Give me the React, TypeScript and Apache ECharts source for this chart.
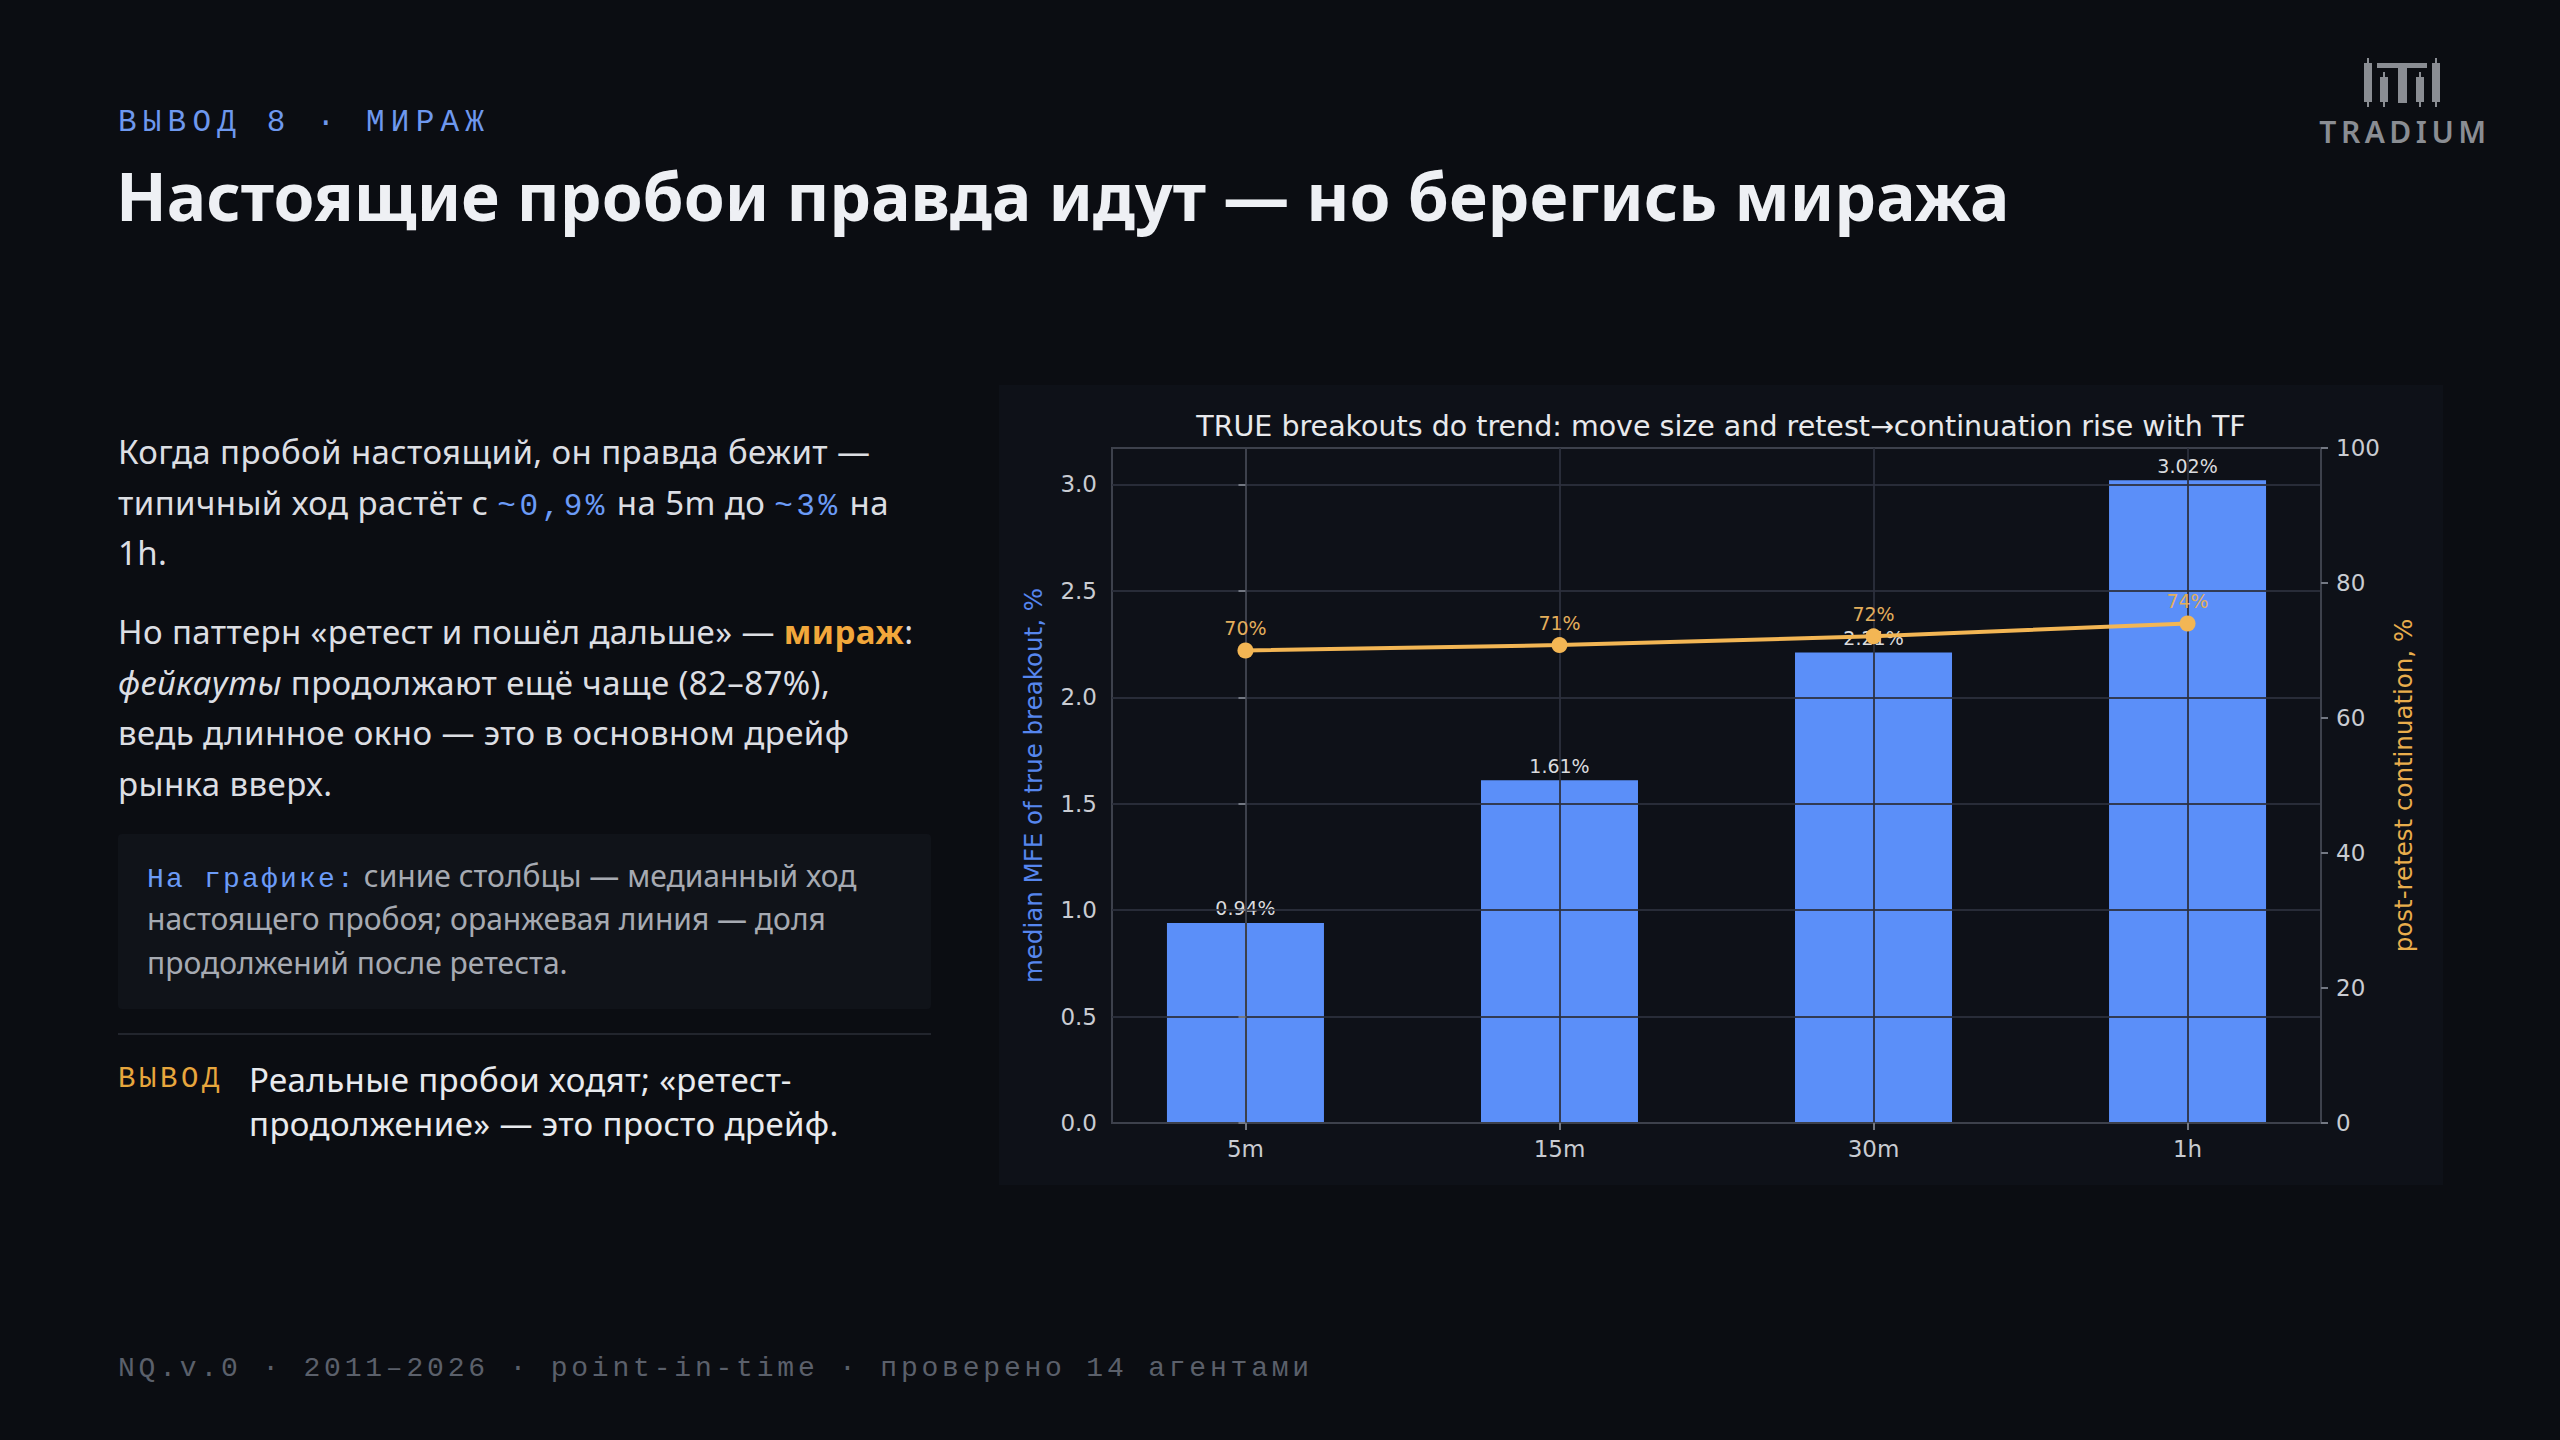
import React, { useEffect, useRef } from "react";
import * as echarts from "echarts";

// ---------------- data ----------------
const categories = ["5m", "15m", "30m", "1h"];
const mfeValues = [0.94, 1.61, 2.21, 3.02];
const mfeLabels = ["0.94%", "1.61%", "2.21%", "3.02%"];
const contValues = [70.0, 70.8, 72.1, 74.0];
const contLabels = ["70%", "71%", "72%", "74%"];
const leftTicks = [0, 0.5, 1.0, 1.5, 2.0, 2.5, 3.0];
const rightTicks = [0, 20, 40, 60, 80, 100];
const xTicks = [0, 1, 2, 3];

const CHART_TITLE =
  "TRUE breakouts do trend: move size and retest\u2192continuation rise with TF";
const LEFT_NAME = "median MFE of true breakout, %";
const RIGHT_NAME = "post-retest continuation, %";

// ---------------- style ----------------
const BG = "#0b0d12";
const PANEL = "#0e1118";
const BAR = "#5b8ff9";
const ORANGE = "#f3b654";
const GRID = "rgba(44,48,60,0.88)";
const SPINE = "#3d414c";
const TICKC = "#c9ccd2";
const SANS = "'Noto Sans', 'DejaVu Sans', sans-serif";
const MONO = "'Liberation Mono', 'DejaVu Sans Mono', monospace";
const CHART_FONT = "'DejaVu Sans', sans-serif";

function Chart() {
  const ref = useRef<HTMLDivElement | null>(null);
  useEffect(() => {
    if (!ref.current) return;
    const chart = echarts.init(ref.current, undefined, { renderer: "svg" });
    const option: any = {
      animation: false,
      backgroundColor: PANEL,
      textStyle: { fontFamily: CHART_FONT },
      title: {
        text: CHART_TITLE,
        left: 717,
        top: 22,
        textAlign: "center",
        textStyle: {
          color: "#e8e9ec",
          fontSize: 28.5,
          fontWeight: "normal",
          fontFamily: CHART_FONT,
        },
      },
      grid: {
        left: 113,
        right: 122,
        top: 63,
        bottom: 62,
        show: true,
        borderColor: SPINE,
        borderWidth: 2,
        backgroundColor: "transparent",
      },
      xAxis: {
        type: "value",
        min: -0.425,
        max: 3.425,
        splitNumber: 4,
        minInterval: 1,
        maxInterval: 1,
        z: 3,
        axisLine: { show: true, onZero: false, lineStyle: { color: SPINE, width: 2 } },
        axisTick: {
          show: true,
          length: 7,
          customValues: xTicks,
          lineStyle: { color: "#737883", width: 2 },
        },
        axisLabel: {
          customValues: xTicks,
          formatter: (v: number) => categories[Math.round(v)] ?? "",
          color: TICKC,
          fontSize: 23,
          margin: 14,
          fontFamily: CHART_FONT,
        },
        splitLine: { show: true, lineStyle: { color: GRID, width: 2 } },
      },
      yAxis: [
        {
          type: "value",
          min: 0,
          max: 3.171,
          interval: 0.5,
          position: "left",
          z: 3,
          axisLine: { show: true, lineStyle: { color: SPINE, width: 2 } },
          axisTick: {
            show: true,
            length: 7,
            customValues: leftTicks,
            lineStyle: { color: "#737883", width: 2 },
          },
          axisLabel: {
            customValues: leftTicks,
            formatter: (v: number) => v.toFixed(1),
            color: TICKC,
            fontSize: 23,
            margin: 15,
            fontFamily: CHART_FONT,
          },
          splitLine: { show: true, lineStyle: { color: GRID, width: 2 } },
          name: LEFT_NAME,
          nameLocation: "middle",
          nameRotate: 90,
          nameGap: 66,
          nameTextStyle: { color: "#5686ee", fontSize: 24.5, fontFamily: CHART_FONT },
        },
        {
          type: "value",
          min: 0,
          max: 100,
          interval: 20,
          position: "right",
          z: 3,
          axisLine: { show: true, lineStyle: { color: SPINE, width: 2 } },
          axisTick: {
            show: true,
            length: 7,
            customValues: rightTicks,
            lineStyle: { color: "#737883", width: 2 },
          },
          axisLabel: {
            customValues: rightTicks,
            color: TICKC,
            fontSize: 23,
            margin: 15,
            fontFamily: CHART_FONT,
          },
          splitLine: { show: false },
          name: RIGHT_NAME,
          nameLocation: "middle",
          nameRotate: 90,
          nameGap: 68,
          nameTextStyle: { color: "#e9ad4c", fontSize: 24.5, fontFamily: CHART_FONT },
        },
      ],
      series: [
        {
          type: "custom",
          z: 2,
          xAxisIndex: 0,
          yAxisIndex: 0,
          encode: { x: 0, y: 1 },
          data: mfeValues.map((v, i) => [i, v]),
          renderItem: (params: any, api: any) => {
            const x = api.value(0);
            const y = api.value(1);
            const tl = api.coord([x - 0.25, y]);
            const br = api.coord([x + 0.25, 0]);
            return {
              type: "rect",
              shape: { x: tl[0], y: tl[1], width: br[0] - tl[0], height: br[1] - tl[1] },
              style: { fill: BAR },
              textContent: {
                style: {
                  text: mfeLabels[params.dataIndex],
                  fill: "#dadbde",
                  fontSize: 19,
                  fontFamily: CHART_FONT,
                },
              },
              textConfig: { position: "top", distance: 5 },
            };
          },
        },
        {
          type: "line",
          z: 5,
          xAxisIndex: 0,
          yAxisIndex: 1,
          data: contValues.map((v, i) => [i, v]),
          symbol: "circle",
          symbolSize: 16,
          itemStyle: { color: ORANGE },
          lineStyle: { color: ORANGE, width: 4 },
          label: {
            show: true,
            position: "top",
            distance: 5,
            formatter: (p: any) => contLabels[p.dataIndex],
            color: "#e3ae5c",
            fontSize: 19,
            fontFamily: CHART_FONT,
          },
        },
      ],
    };
    chart.setOption(option);
    return () => chart.dispose();
  }, []);
  return (
    <div
      ref={ref}
      style={{ position: "absolute", left: 999, top: 385, width: 1444, height: 800 }}
    />
  );
}

function Logo() {
  const c = "#8a8d93";
  return (
    <div style={{ position: "absolute", left: 2310, top: 52, width: 190, height: 100 }}>
      <svg width="190" height="60" style={{ position: "absolute", left: 0, top: 0 }}>
        <g fill={c}>
          <rect x={57} y={6} width={2} height={49} />
          <rect x={54} y={11} width={8} height={39} />
          <rect x={73} y={20} width={2} height={35} />
          <rect x={70} y={25} width={8} height={25} />
          <rect x={67} y={11} width={50} height={5} />
          <rect x={88} y={11} width={9} height={40} />
          <rect x={109} y={20} width={2} height={35} />
          <rect x={106} y={25} width={8} height={25} />
          <rect x={125} y={6} width={2} height={49} />
          <rect x={122} y={11} width={8} height={39} />
        </g>
      </svg>
      <div
        style={{
          position: "absolute",
          left: -10,
          top: 63,
          width: 210,
          textAlign: "center",
          fontFamily: SANS,
          fontWeight: 600,
          fontSize: 30,
          letterSpacing: 4.5,
          color: c,
          lineHeight: "34px",
        }}
      >
        TRADIUM
      </div>
    </div>
  );
}

const blueMono: React.CSSProperties = {
  fontFamily: MONO,
  color: "#6b9bf7",
  fontSize: 31,
  letterSpacing: 3.5,
  lineHeight: 1,
};

export default function App() {
  useEffect(() => {
    document.body.style.margin = "0";
    document.body.style.background = BG;
  }, []);
  const textColor = "#dcdee3";
  return (
    <div
      style={{
        position: "absolute",
        left: 0,
        top: 0,
        width: 2560,
        height: 1440,
        background: BG,
        overflow: "hidden",
        fontFamily: SANS,
      }}
    >
      <div
        style={{
          position: "absolute",
          left: 118,
          top: 106,
          fontFamily: MONO,
          fontSize: 31,
          lineHeight: "34px",
          letterSpacing: 6.2,
          color: "#6e98ee",
          whiteSpace: "nowrap",
        }}
      >
        ВЫВОД 8 · МИРАЖ
      </div>
      <div
        style={{
          position: "absolute",
          left: 116,
          top: 155,
          fontFamily: SANS,
          fontWeight: 700,
          fontSize: 66,
          lineHeight: "80px",
          color: "#eef0f4",
          whiteSpace: "nowrap",
        }}
      >
        Настоящие пробои правда идут — но берегись миража
      </div>
      <Logo />

      <div
        style={{
          position: "absolute",
          left: 118,
          top: 427,
          fontSize: 33,
          letterSpacing: 0.4,
          lineHeight: "50.5px",
          color: textColor,
          whiteSpace: "nowrap",
        }}
      >
        Когда пробой настоящий, он правда бежит —
        <br />
        типичный ход растёт с <span style={blueMono}>~0,9%</span> на 5m до{" "}
        <span style={blueMono}>~3%</span> на
        <br />
        1h.
      </div>

      <div
        style={{
          position: "absolute",
          left: 118,
          top: 607,
          fontSize: 33,
          letterSpacing: 0.4,
          lineHeight: "50.5px",
          color: textColor,
          whiteSpace: "nowrap",
        }}
      >
        Но паттерн «ретест и пошёл дальше» —{" "}
        <span style={{ color: "#f2a73b", fontWeight: 700 }}>мираж</span>:
        <br />
        <i>фейкауты</i> продолжают ещё чаще (82–87%),
        <br />
        ведь длинное окно — это в основном дрейф
        <br />
        рынка вверх.
      </div>

      <div
        style={{
          position: "absolute",
          left: 118,
          top: 834,
          width: 813,
          height: 175,
          boxSizing: "border-box",
          padding: "20px 0 0 29px",
          background: "#101319",
          borderRadius: 4,
          fontSize: 30,
          lineHeight: "43.3px",
          color: "#a6aab2",
          whiteSpace: "nowrap",
        }}
      >
        <span
          style={{
            fontFamily: MONO,
            color: "#6b9bf7",
            fontSize: 28,
            letterSpacing: 2.2,
            lineHeight: 1,
          }}
        >
          На графике:
        </span>{" "}
        синие столбцы — медианный ход
        <br />
        настоящего пробоя; оранжевая линия — доля
        <br />
        продолжений после ретеста.
      </div>

      <div
        style={{
          position: "absolute",
          left: 118,
          top: 1033,
          width: 813,
          height: 2,
          background: "#22252d",
        }}
      />

      <div
        style={{
          position: "absolute",
          left: 118,
          top: 1058,
          fontFamily: MONO,
          fontSize: 29,
          lineHeight: "44px",
          letterSpacing: 3.6,
          color: "#e7a63d",
          whiteSpace: "nowrap",
        }}
      >
        ВЫВОД
      </div>
      <div
        style={{
          position: "absolute",
          left: 249,
          top: 1058,
          fontSize: 33,
          letterSpacing: 0.4,
          lineHeight: "44px",
          color: "#e8eaee",
          whiteSpace: "nowrap",
        }}
      >
        Реальные пробои ходят; «ретест-
        <br />
        продолжение» — это просто дрейф.
      </div>

      <Chart />

      <div
        style={{
          position: "absolute",
          left: 118,
          top: 1354,
          fontFamily: MONO,
          fontSize: 28,
          lineHeight: "30px",
          letterSpacing: 3.8,
          color: "#5b606b",
          whiteSpace: "nowrap",
        }}
      >
        NQ.v.0 · 2011–2026 · point-in-time · проверено 14 агентами
      </div>
    </div>
  );
}
